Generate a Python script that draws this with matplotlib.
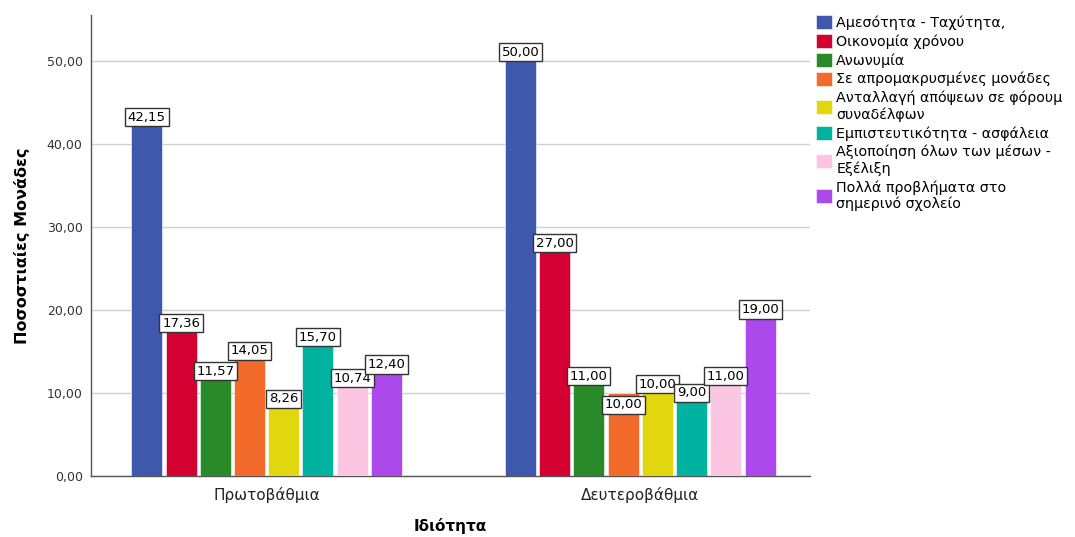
import matplotlib
matplotlib.use("Agg")
import matplotlib.pyplot as plt
import numpy as np

plt.rcParams['font.family'] = ['DejaVu Sans']

groups = ["Πρωτοβάθμια", "Δευτεροβάθμια"]
series_names = [
    "Αμεσότητα - Ταχύτητα,",
    "Οικονομία χρόνου",
    "Ανωνυμία",
    "Σε απρομακρυσμένες μονάδες",
    "Ανταλλαγή απόψεων σε φόρουμ\nσυναδέλφων",
    "Εμπιστευτικότητα - ασφάλεια",
    "Αξιοποίηση όλων των μέσων -\nΕξέλιξη",
    "Πολλά προβλήματα στο\nσημερινό σχολείο",
]
primary = [42.15, 17.36, 11.57, 14.05, 8.26, 15.70, 10.74, 12.40]
secondary = [50.00, 27.00, 11.00, 10.00, 10.00, 9.00, 11.00, 19.00]
colors = ["#3E58AC", "#D50032", "#2A8A2A", "#F26B2B",
          "#E2D60E", "#00B3A0", "#FCC5E2", "#AB49EB"]
y_ticks = [0, 10, 20, 30, 40, 50]

values = np.array([primary, secondary])  # shape (groups, series)

fig = plt.figure(figsize=(10.75, 5.37), dpi=100)
ax = fig.add_axes([0.0847, 0.1136, 0.669, 0.8584])

step = 0.0916
width = 0.083
n = len(series_names)
x = np.arange(len(groups))
offsets = (np.arange(n) - (n - 1) / 2) * step

# labels that would collide with a neighbour are pushed below the bar top
label_below = {(1, 3)}

box = dict(boxstyle="square,pad=0.2", fc="white", ec="#333333", lw=1.0)

handles = []
for s in range(n):
    bars = ax.bar(x + offsets[s], values[:, s], width=width, color=colors[s],
                  edgecolor="white", linewidth=0.4, zorder=3,
                  label=series_names[s])
    handles.append(bars)
    for g, b in enumerate(bars):
        v = values[g, s]
        txt = f"{v:.2f}".replace(".", ",")
        cx = b.get_x() + b.get_width() / 2
        below = (g, s) in label_below
        ax.annotate(txt, (cx, v), xytext=(0, -4 if below else 1.5),
                    textcoords="offset points", ha="center",
                    va="top" if below else "bottom", fontsize=9.5,
                    zorder=5, bbox=box)

ax.set_xlim(-0.47, 1.455)
ax.set_ylim(0, 55.5)
ax.set_yticks(y_ticks)
ax.set_yticklabels([f"{t:.2f}".replace(".", ",") for t in y_ticks], fontsize=9,
                   color="#333333")
ax.set_xticks(x)
ax.set_xticklabels(groups, fontsize=11, color="#222222")
ax.tick_params(axis="both", length=0, pad=8)
ax.tick_params(axis="y", pad=6)

ax.yaxis.grid(True, color="#D0D0D0", linewidth=1.0, zorder=0)
ax.set_axisbelow(True)
for side in ["top", "right"]:
    ax.spines[side].set_visible(False)
for side in ["left", "bottom"]:
    ax.spines[side].set_color("#555555")
    ax.spines[side].set_linewidth(1.0)

ax.set_ylabel("Ποσοστιαίες Μονάδες", fontsize=11.5, fontweight="bold",
              labelpad=12)
ax.set_xlabel("Ιδιότητα", fontsize=11, fontweight="bold", labelpad=11)

fig.legend(handles=handles, labels=series_names, loc="upper left",
           bbox_to_anchor=(0.756, 0.978), frameon=False, fontsize=10.3,
           handlelength=1.15, handleheight=1.15, handletextpad=0.3,
           labelspacing=0.28, borderaxespad=0.0, borderpad=0.2)

fig.savefig("out.png", dpi=100)
